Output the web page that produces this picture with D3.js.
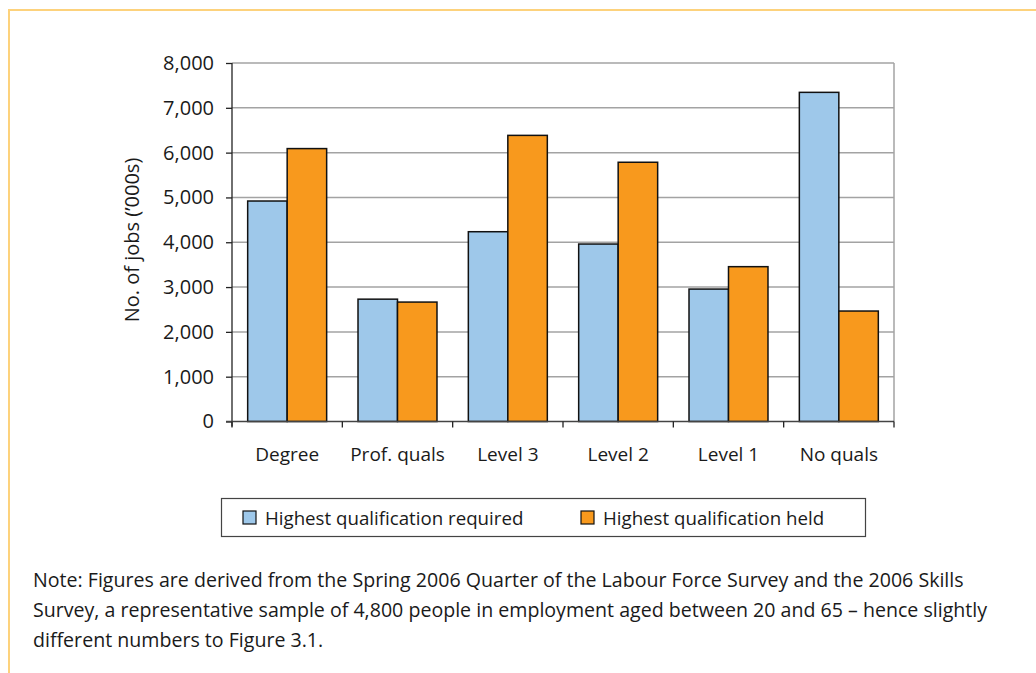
<!DOCTYPE html>
<html>
<head>
<meta charset="utf-8">
<script src="https://cdn.jsdelivr.net/npm/d3@7"></script>
<style>
  html, body { margin: 0; padding: 0; background: #fff; }
  svg { display: block; }
  text { font-family: "Open Sans", "Noto Sans", sans-serif; fill: #1a1a1a; }
</style>
</head>
<body>
<svg id="chart" width="1036" height="673"></svg>
<script>
// Jobs by qualification level ('000s)
const categories = ["Degree", "Prof. quals", "Level 3", "Level 2", "Level 1", "No quals"];
const seriesNames = ["Highest qualification required", "Highest qualification held"];
const requiredValues = [4920, 2730, 4235, 3960, 2955, 7345];
const heldValues = [6090, 2665, 6385, 5785, 3455, 2465];
const yTicks = [0, 1000, 2000, 3000, 4000, 5000, 6000, 7000, 8000];
const noteLines = [
  "Note: Figures are derived from the Spring 2006 Quarter of the Labour Force Survey and the 2006 Skills",
  "Survey, a representative sample of 4,800 people in employment aged between 20 and 65 \u2013 hence slightly",
  "different numbers to Figure 3.1."
];

const colors = ["#9ec8ea", "#f8991d"];
const svg = d3.select("#chart");

// page frame
svg.append("line").attr("x1", 8).attr("x2", 1036).attr("y1", 10).attr("y2", 10)
  .attr("stroke", "#fdd27c").attr("stroke-width", 2);
svg.append("line").attr("x1", 9).attr("x2", 9).attr("y1", 9).attr("y2", 673)
  .attr("stroke", "#fdd27c").attr("stroke-width", 2);

const plot = { left: 232, right: 894, top: 63, bottom: 421.5 };

const x = d3.scaleBand().domain(categories).range([plot.left, plot.right]).paddingInner(0).paddingOuter(0);
const inner = d3.scaleBand().domain([0, 1]).range([0, x.bandwidth()]).paddingOuter(0.397).paddingInner(0);
const y = d3.scaleLinear().domain([0, 8000]).range([plot.bottom, plot.top]);

// gridlines
svg.append("g").selectAll("line").data(yTicks.filter(d => d > 0)).join("line")
  .attr("x1", plot.left).attr("x2", plot.right)
  .attr("y1", d => y(d)).attr("y2", d => y(d))
  .attr("stroke", "#a3a3a3").attr("stroke-width", 1.5);

// right edge of plot area
svg.append("line").attr("x1", plot.right).attr("x2", plot.right)
  .attr("y1", plot.top).attr("y2", plot.bottom)
  .attr("stroke", "#a3a3a3").attr("stroke-width", 1.5);

// bars
const rows = categories.map((c, i) => ({ c, v: [requiredValues[i], heldValues[i]] }));
const groups = svg.append("g").selectAll("g").data(rows).join("g")
  .attr("transform", d => `translate(${x(d.c)},0)`);
groups.selectAll("rect").data(d => d.v.map((v, k) => ({ v, k }))).join("rect")
  .attr("x", d => inner(d.k))
  .attr("width", inner.bandwidth())
  .attr("y", d => y(d.v))
  .attr("height", d => y(0) - y(d.v))
  .attr("fill", d => colors[d.k])
  .attr("stroke", "#111")
  .attr("stroke-width", 1.5);

// y axis
const yAxis = svg.append("g").attr("transform", `translate(${plot.left},0)`)
  .call(d3.axisLeft(y).tickValues(yTicks).tickFormat(d3.format(",")).tickSize(6).tickPadding(12));
yAxis.select(".domain").attr("d", `M0,${plot.top}V${plot.bottom + 5}`).attr("stroke", "#222").attr("stroke-width", 1.3);
yAxis.selectAll(".tick line").attr("stroke", "#222").attr("stroke-width", 1.3);
yAxis.selectAll("text").style("font-size", "20px").attr("fill", "#1a1a1a")
  .style("font-family", "'Open Sans', sans-serif");

// x axis
const xAxis = svg.append("g").attr("transform", `translate(0,${plot.bottom})`)
  .call(d3.axisBottom(x).tickSize(0).tickPadding(26));
xAxis.select(".domain").attr("d", `M${plot.left - 6},0H${plot.right}`).attr("stroke", "#444").attr("stroke-width", 1.5);
xAxis.selectAll("text").style("font-size", "19px").attr("fill", "#1a1a1a")
  .style("font-family", "'Open Sans', sans-serif");
// category boundary ticks
const bounds = categories.map(c => x(c)).concat([plot.right]);
svg.append("g").selectAll("line").data(bounds).join("line")
  .attr("x1", d => d).attr("x2", d => d)
  .attr("y1", plot.bottom).attr("y2", plot.bottom + 6)
  .attr("stroke", "#222").attr("stroke-width", 1.3);

// y axis title
svg.append("text")
  .attr("transform", "translate(139,240) rotate(-90)")
  .attr("text-anchor", "middle")
  .style("font-size", "20px")
  .text("No. of jobs (\u2019000s)");

// legend
const legend = svg.append("g");
legend.append("rect").attr("x", 221.5).attr("y", 498.5).attr("width", 644).attr("height", 38)
  .attr("fill", "#fff").attr("stroke", "#444").attr("stroke-width", 1.2);
const legendX = [243, 581];
seriesNames.forEach((name, k) => {
  legend.append("rect").attr("x", legendX[k]).attr("y", 511).attr("width", 13).attr("height", 13)
    .attr("fill", colors[k]).attr("stroke", "#111").attr("stroke-width", 1.2);
  legend.append("text").attr("x", legendX[k] + 22).attr("y", 524.5)
    .style("font-size", "18.7px").text(name);
});

// note
svg.append("g").selectAll("text").data(noteLines).join("text")
  .attr("x", 33).attr("y", (d, i) => 587 + i * 30)
  .style("font-size", "19.6px").attr("fill", "#222")
  .text(d => d);
</script>
</body>
</html>
